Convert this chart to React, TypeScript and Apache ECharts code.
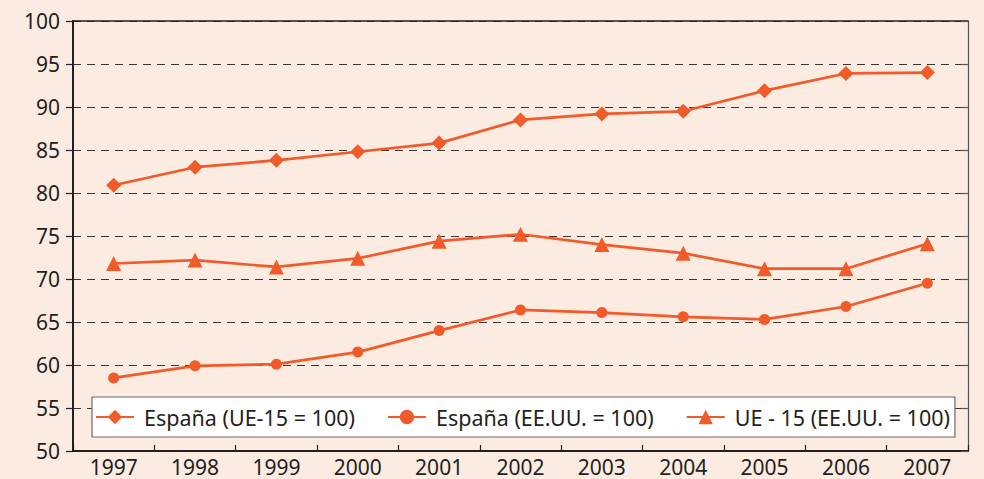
import React, { useEffect, useRef } from "react";
import * as echarts from "echarts";

const years = ["1997", "1998", "1999", "2000", "2001", "2002", "2003", "2004", "2005", "2006", "2007"];
const espanaUE15 = [80.9, 83.0, 83.8, 84.8, 85.8, 88.5, 89.2, 89.5, 91.9, 93.9, 94.0];
const espanaEEUU = [58.5, 59.9, 60.1, 61.5, 64.0, 66.4, 66.1, 65.6, 65.3, 66.8, 69.5];
const ue15EEUU = [71.8, 72.2, 71.4, 72.4, 74.4, 75.2, 74.0, 73.0, 71.2, 71.2, 74.1];
const seriesNames = ["España (UE-15 = 100)", "España (EE.UU. = 100)", "UE - 15 (EE.UU. = 100)"];

const ORANGE = "#f15a29";
const TEXT = "#231f20";
const FONT = "'Noto Sans', sans-serif";

export default function App() {
  const ref = useRef<HTMLDivElement>(null);
  useEffect(() => {
    document.body.style.margin = "0";
    const chart = echarts.init(ref.current!, undefined, { renderer: "svg" });
    const mk = (name: string, data: number[], symbol: string, size: number) => ({
      name,
      type: "line",
      data,
      symbol,
      symbolSize: size,
      lineStyle: { color: ORANGE, width: 2.7 },
      itemStyle: { color: ORANGE },
      z: 3,
    });
    chart.setOption({
      animation: false,
      backgroundColor: "#fcebe1",
      textStyle: { fontFamily: FONT },
      grid: { left: 73, right: 16, top: 21, bottom: 28 },
      legend: {
        left: 92,
        top: 397,
        padding: [9, 5, 9, 3],
        itemGap: 32,
        itemWidth: 38,
        itemHeight: 18,
        backgroundColor: "#ffffff",
        borderColor: "#6d6a6a",
        borderWidth: 1.2,
        borderRadius: 0,
        textStyle: { fontSize: 21.5, color: TEXT, fontFamily: FONT, lineHeight: 22, padding: [0, 0, 0, 5] },
        data: seriesNames,
        z: 5,
      },
      xAxis: [
        {
          type: "category",
          data: years,
          boundaryGap: true,
          axisLine: { show: true, lineStyle: { color: TEXT, width: 2 } },
          axisTick: { show: true, inside: true, length: 6, lineStyle: { color: TEXT, width: 1.2 } },
          axisLabel: { fontSize: 21, color: TEXT, margin: 5, fontFamily: FONT },
          splitLine: { show: false },
        },
        {
          type: "category",
          data: years,
          position: "top",
          boundaryGap: true,
          axisLine: { show: true, lineStyle: { color: TEXT, width: 1.5 } },
          axisTick: { show: false },
          axisLabel: { show: false },
        },
      ],
      yAxis: [
        {
          type: "value",
          min: 50,
          max: 100,
          interval: 5,
          axisLine: { show: true, lineStyle: { color: TEXT, width: 2 } },
          axisTick: { show: true, inside: false, length: 7, lineStyle: { color: TEXT, width: 1.2 } },
          axisLabel: { fontSize: 21, color: TEXT, margin: 13, fontFamily: FONT },
          splitLine: { show: true, lineStyle: { color: "#3a3535", width: 1.2, type: [8, 6] } },
        },
        {
          type: "value",
          min: 50,
          max: 100,
          interval: 5,
          position: "right",
          axisLine: { show: true, lineStyle: { color: "#5a5555", width: 1.2 } },
          axisTick: { show: true, inside: true, length: 7, lineStyle: { color: "#5a5555", width: 1.2 } },
          axisLabel: { show: false },
          splitLine: { show: false },
        },
      ],
      series: [
        mk(seriesNames[0], espanaUE15, "diamond", 15),
        mk(seriesNames[1], espanaEEUU, "circle", 11),
        mk(seriesNames[2], ue15EEUU, "triangle", 15),
      ],
    });
    return () => chart.dispose();
  }, []);
  return <div ref={ref} style={{ width: 984, height: 479 }} />;
}
